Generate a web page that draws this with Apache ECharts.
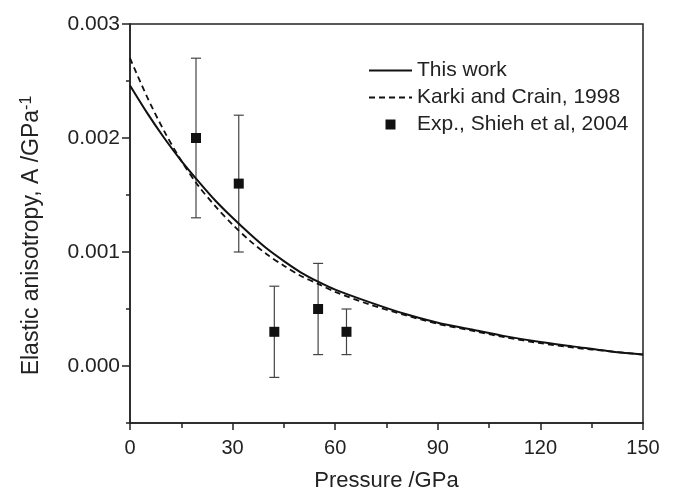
<!DOCTYPE html>
<html>
<head>
<meta charset="utf-8">
<script src="https://cdn.jsdelivr.net/npm/echarts@6/dist/echarts.min.js"></script>
<style>
  html, body { margin: 0; padding: 0; background: #fff; }
  #chart { width: 684px; height: 493px; }
</style>
</head>
<body>
<div id="chart"></div>
<script>
// pressure grid for the two model curves (GPa)
var pressure = [0, 5, 10, 15, 20, 25, 30, 35, 40, 45, 50, 55, 60, 70, 80, 90, 100, 110, 120, 130, 140, 150];
// this work
var thisWork = [0.00246, 0.00222, 0.00200, 0.00180, 0.00162, 0.00145, 0.00130, 0.00116, 0.00103, 0.00092, 0.00082, 0.00074, 0.00067,
  0.00056, 0.00046, 0.00038, 0.00032, 0.00026, 0.00021, 0.00017, 0.00013, 0.00010];
// Karki and Crain, 1998
var karki = [0.00270, 0.00236, 0.00206, 0.00180, 0.00158, 0.00140, 0.00124, 0.00110, 0.00098, 0.00088, 0.00079, 0.00072, 0.00065,
  0.00054, 0.00045, 0.00037, 0.00031, 0.00025, 0.00020, 0.00016, 0.00013, 0.00010];
// experiment, Shieh et al 2004
var expP = [19.3, 31.8, 42.2, 55.0, 63.3];
var expA = [0.0020, 0.0016, 0.0003, 0.0005, 0.0003];
var expLo = [0.0013, 0.0010, -0.0001, 0.0001, 0.0001];
var expHi = [0.0027, 0.0022, 0.0007, 0.0009, 0.0005];

var yLabels = [0, 0.001, 0.002, 0.003];
var yMinor = [-0.0005, 0.0005, 0.0015, 0.0025];

var font = '"Liberation Sans", Arial, Helvetica, sans-serif';
var ink = '#222';

function pairs(xs, ys) {
  return xs.map(function (x, i) { return [x, ys[i]]; });
}

var chart = echarts.init(document.getElementById('chart'));

var option = {
  animation: false,
  backgroundColor: '#fff',
  textStyle: { fontFamily: font, color: ink },
  grid: {
    left: 130, right: 41, top: 24, bottom: 70,
    outerBoundsMode: 'none',
    containLabel: false,
    show: true, borderColor: ink, borderWidth: 1.5, backgroundColor: 'transparent'
  },
  legend: {
    orient: 'vertical',
    left: 363,
    top: 55,
    itemWidth: 43,
    itemHeight: 10,
    itemGap: 6,
    textStyle: { fontFamily: font, fontSize: 21, color: ink, lineHeight: 21 },
    data: [
      { name: 'This work', itemStyle: { opacity: 0 } },
      { name: 'Karki and Crain, 1998', itemStyle: { opacity: 0 } },
      { name: 'Exp., Shieh et al, 2004', icon: 'path://M0,0L10,0L10,10L0,10Z' }
    ]
  },
  xAxis: {
    type: 'value',
    min: 0, max: 150, interval: 30,
    name: 'Pressure /GPa',
    nameLocation: 'middle',
    nameGap: 47,
    nameTextStyle: { fontFamily: font, fontSize: 22, color: ink },
    axisLine: { show: true, onZero: false, lineStyle: { color: ink, width: 1.5 } },
    axisTick: { show: true, length: 7, lineStyle: { color: ink, width: 1.5 } },
    minorTick: { show: true, splitNumber: 2, length: 5, lineStyle: { color: ink, width: 1.5 } },
    axisLabel: { fontFamily: font, fontSize: 20, color: ink, margin: 15 },
    splitLine: { show: false }
  },
  yAxis: [{
    type: 'value',
    min: -0.0005, max: 0.003,
    name: '{a|Elastic anisotropy, A /GPa}{b|-1}',
    nameLocation: 'middle',
    nameGap: 85,
    nameTextStyle: {
      padding: [0, 24, 0, 0],
      rich: {
        a: { fontFamily: font, fontSize: 23, color: ink },
        b: { fontFamily: font, fontSize: 16, color: ink, verticalAlign: 'top', padding: [0, 0, 10, 0] }
      }
    },
    axisLine: { show: true, onZero: false, lineStyle: { color: ink, width: 1.5 } },
    axisTick: { show: true, length: 8, customValues: yLabels, lineStyle: { color: ink, width: 1.5 } },
    axisLabel: {
      fontFamily: font, fontSize: 21, color: ink, margin: 10,
      customValues: yLabels,
      formatter: function (v) { return v.toFixed(3); }
    },
    splitLine: { show: false }
  }, {
    type: 'value',
    position: 'left',
    min: -0.0005, max: 0.003,
    axisLine: { show: false },
    axisTick: { show: true, length: 4, customValues: yMinor, lineStyle: { color: ink, width: 1.5 } },
    axisLabel: { show: false },
    splitLine: { show: false }
  }],
  series: [
    {
      name: 'This work',
      type: 'line',
      data: pairs(pressure, thisWork),
      smooth: 0.3,
      symbol: 'none',
      lineStyle: { color: '#111', width: 2 },
      itemStyle: { color: '#111' },
      z: 3
    },
    {
      name: 'Karki and Crain, 1998',
      type: 'line',
      data: pairs(pressure, karki),
      smooth: 0.3,
      symbol: 'none',
      lineStyle: { color: '#111', width: 1.8, type: [6, 4] },
      itemStyle: { color: '#111' },
      z: 3
    },
    {
      name: 'errors',
      type: 'custom',
      data: expP.map(function (p, i) { return [p, expLo[i], expHi[i]]; }),
      renderItem: function (params, api) {
        var lo = api.coord([api.value(0), api.value(1)]);
        var hi = api.coord([api.value(0), api.value(2)]);
        var w = 5;
        var st = { stroke: '#444', lineWidth: 1.2 };
        return {
          type: 'group',
          children: [
            { type: 'line', shape: { x1: lo[0], y1: lo[1], x2: hi[0], y2: hi[1] }, style: st },
            { type: 'line', shape: { x1: lo[0] - w, y1: lo[1], x2: lo[0] + w, y2: lo[1] }, style: st },
            { type: 'line', shape: { x1: hi[0] - w, y1: hi[1], x2: hi[0] + w, y2: hi[1] }, style: st }
          ]
        };
      },
      z: 2
    },
    {
      name: 'Exp., Shieh et al, 2004',
      type: 'scatter',
      data: pairs(expP, expA),
      symbol: 'rect',
      symbolSize: 10,
      itemStyle: { color: '#111', opacity: 1 },
      z: 4
    }
  ]
};

chart.setOption(option);
</script>
</body>
</html>
